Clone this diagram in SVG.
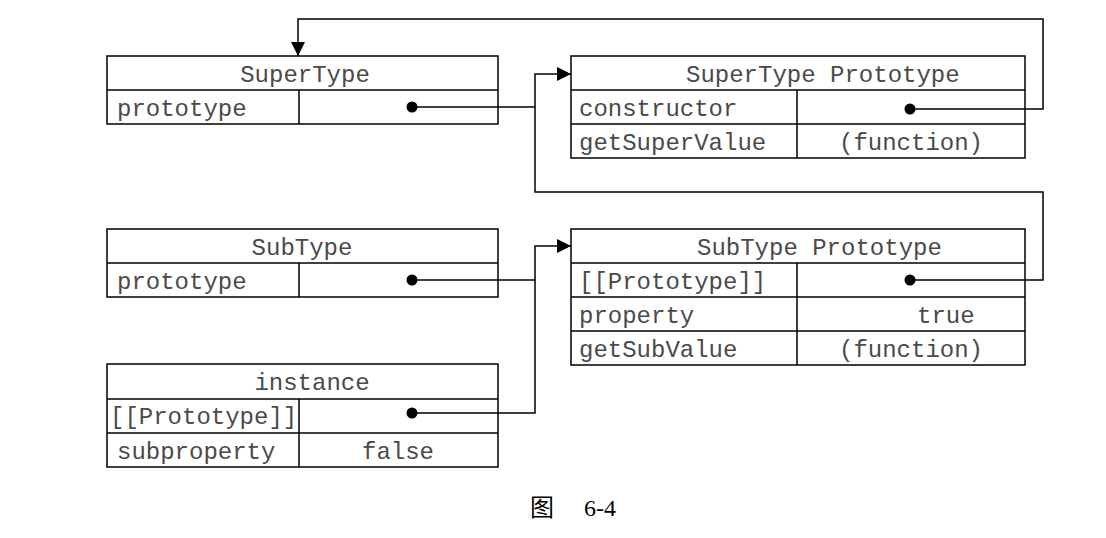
<svg xmlns="http://www.w3.org/2000/svg" width="1106" height="538" viewBox="0 0 1106 538">
<defs>
<marker id="arr" viewBox="0 0 14 14" refX="14" refY="7" markerWidth="14" markerHeight="14" markerUnits="userSpaceOnUse" orient="auto">
<path d="M0,0 L14,7 L0,14 Z" fill="#000"/>
</marker>
<style>
.box{fill:#fff;stroke:#000;stroke-width:1.5}
.ln{stroke:#000;stroke-width:1.5;fill:none}
.t{font-family:"Liberation Mono","Courier New",monospace;font-size:24px;fill:#4a4a4a}
.c{text-anchor:middle}
.dot{fill:#000}
.cap{font-family:"Liberation Serif","Noto Sans CJK SC",serif;font-size:24px;fill:#000}
</style>
</defs>
<rect width="1106" height="538" fill="#fff"/>
<g id="supertype">
<rect class="box" x="107" y="56" width="391" height="68"/>
<path class="ln" d="M107,90 H498 M299,90 V124"/>
<text class="t c" x="305" y="82">SuperType</text>
<text class="t" x="117" y="116">prototype</text>
</g>
<g id="supertype-prototype">
<rect class="box" x="571" y="56" width="454" height="102"/>
<path class="ln" d="M571,90 H1025 M571,124 H1025 M797,90 V158"/>
<text class="t" x="686" y="82">SuperType Prototype</text>
<text class="t" x="579" y="116">constructor</text>
<text class="t" x="579" y="150">getSuperValue</text>
<text class="t c" x="911" y="150">(function)</text>
</g>
<g id="subtype">
<rect class="box" x="107" y="229" width="391" height="68"/>
<path class="ln" d="M107,263 H498 M299,263 V297"/>
<text class="t c" x="302" y="255">SubType</text>
<text class="t" x="117" y="289">prototype</text>
</g>
<g id="subtype-prototype">
<rect class="box" x="571" y="229" width="454" height="136"/>
<path class="ln" d="M571,263 H1025 M571,297 H1025 M571,331 H1025 M797,263 V365"/>
<text class="t" x="697" y="255">SubType Prototype</text>
<text class="t" x="579" y="289">[[Prototype]]</text>
<text class="t" x="579" y="323">property</text>
<text class="t" x="917" y="323">true</text>
<text class="t" x="579" y="357">getSubValue</text>
<text class="t c" x="911" y="357">(function)</text>
</g>
<g id="instance">
<rect class="box" x="107" y="364" width="391" height="103"/>
<path class="ln" d="M107,399 H498 M107,433 H498 M299,399 V467"/>
<text class="t c" x="312" y="390">instance</text>
<text class="t" x="110" y="424">[[Prototype]]</text>
<text class="t" x="117" y="459">subproperty</text>
<text class="t c" x="398" y="459">false</text>
</g>
<g id="connectors">
<path class="ln" d="M910,109 H1043 V19 H298 V56" marker-end="url(#arr)"/>
<path class="ln" d="M412,107 H535"/>
<path class="ln" d="M910,280 H1043 V192 H535 V74 H571" marker-end="url(#arr)"/>
<path class="ln" d="M412,280 H535"/>
<path class="ln" d="M412,413 H535 V246 H571" marker-end="url(#arr)"/>
<circle class="dot" cx="412" cy="107" r="5.5"/>
<circle class="dot" cx="910" cy="109" r="5.5"/>
<circle class="dot" cx="412" cy="280" r="5.5"/>
<circle class="dot" cx="910" cy="280" r="5.5"/>
<circle class="dot" cx="412" cy="413" r="5.5"/>
</g>
<g id="caption">
<text class="cap" x="530" y="516">图</text>
<text class="cap" x="584" y="516">6-4</text>
</g>
</svg>
